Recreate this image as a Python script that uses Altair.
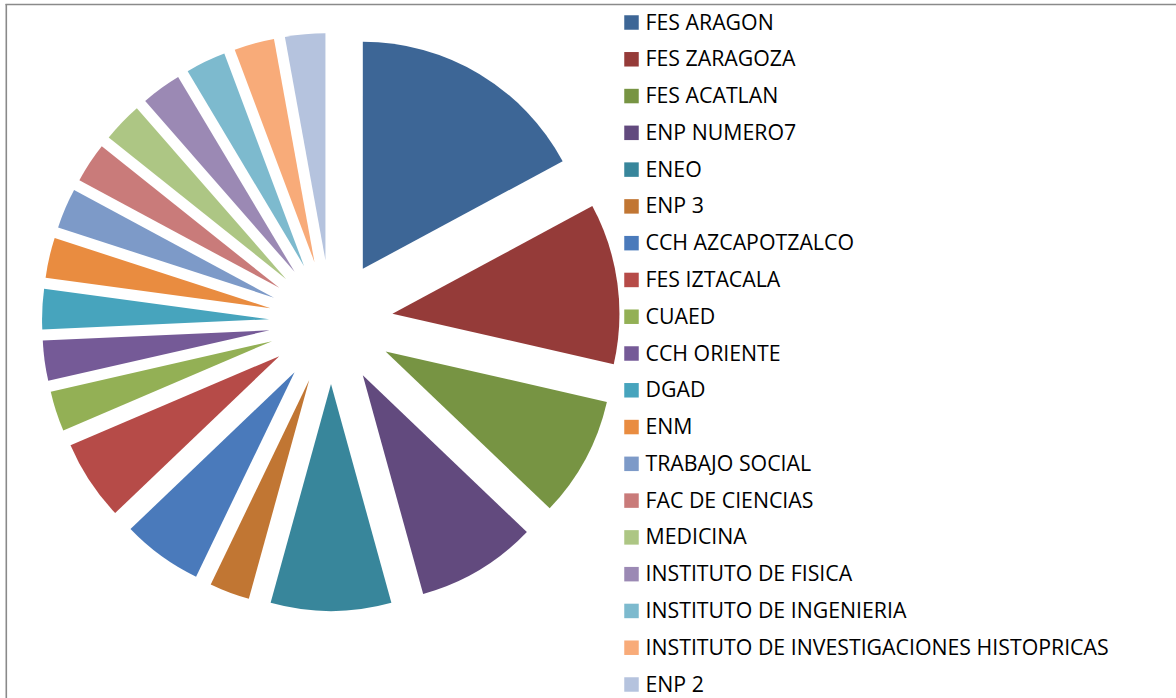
import altair as alt
import pandas as pd

names = [
    "FES ARAGON", "FES ZARAGOZA", "FES ACATLAN", "ENP NUMERO7", "ENEO", "ENP 3",
    "CCH AZCAPOTZALCO", "FES IZTACALA", "CUAED", "CCH ORIENTE", "DGAD", "ENM",
    "TRABAJO SOCIAL", "FAC DE CIENCIAS", "MEDICINA", "INSTITUTO DE FISICA",
    "INSTITUTO DE INGENIERIA", "INSTITUTO DE INVESTIGACIONES HISTOPRICAS", "ENP 2",
]
counts = [6, 4, 3, 3, 3, 1, 2, 2, 1, 1, 1, 1, 1, 1, 1, 1, 1, 1, 1]
colors = [
    "#3D6696", "#953B39", "#779443", "#624A7E", "#38869B", "#C17633",
    "#4A7ABB", "#B64B48", "#93B055", "#755A97", "#47A4BD", "#E98C40",
    "#7D9AC8", "#C97B7A", "#ADC684", "#9B89B4", "#7DBACE", "#F8AB79", "#B5C3DE",
]

df = pd.DataFrame({"name": names, "count": counts, "order": list(range(len(names)))})

CX, CY, R, EXPLODE = 331, 322, 227, 62
FONT = "Open Sans"

base = alt.Chart(df)

pie = base.transform_window(
    cum="sum(count)", sort=[alt.SortField("order")], frame=[None, 0]
).transform_joinaggregate(
    total="sum(count)"
).transform_calculate(
    a0="(datum.cum - datum.count) / datum.total * 2 * PI",
    a1="datum.cum / datum.total * 2 * PI",
).transform_calculate(
    mid="(datum.a0 + datum.a1) / 2"
).transform_calculate(
    px=f"{CX} + {EXPLODE} * sin(datum.mid)",
    py=f"{CY} - {EXPLODE} * cos(datum.mid)",
).mark_arc(outerRadius=R, innerRadius=0).encode(
    theta=alt.Theta("a0:Q", scale=None),
    theta2="a1:Q",
    x=alt.X("px:Q", scale=None),
    y=alt.Y("py:Q", scale=None),
    color=alt.Color("name:N", scale=alt.Scale(domain=names, range=colors), legend=None),
)

ypos = alt.Y("name:N", sort=names, axis=None,
             scale=alt.Scale(type="point", range=[22.5, 684.5], padding=0))

leg_sq = base.mark_square(size=210, opacity=1, filled=True).encode(
    x=alt.value(631.5),
    y=ypos,
    color=alt.Color("name:N", scale=alt.Scale(domain=names, range=colors), legend=None),
)

leg_txt = base.mark_text(align="left", baseline="middle", font=FONT, fontSize=21.3,
                         color="#000000", dy=1).encode(
    x=alt.value(645.5),
    y=ypos,
    text="name:N",
)

frame_top = alt.Chart(pd.DataFrame({"k": [0]})).mark_rule(color="#8a8a8a", strokeWidth=1.6).encode(
    x=alt.value(5.5), x2=alt.value(1176), y=alt.value(4.5)
)
frame_left = alt.Chart(pd.DataFrame({"k": [0]})).mark_rule(color="#8a8a8a", strokeWidth=1.6).encode(
    x=alt.value(6.3), y=alt.value(4), y2=alt.value(698)
)

chart = alt.layer(pie, leg_sq, leg_txt, frame_top, frame_left).resolve_scale(
    x="independent", y="independent"
).properties(
    width=1176, height=698, padding=0, autosize=alt.AutoSizeParams(type="none"),
    background="#ffffff",
).configure_view(stroke=None)

chart.save("out.html", embed_options={"renderer": "svg", "actions": False})
